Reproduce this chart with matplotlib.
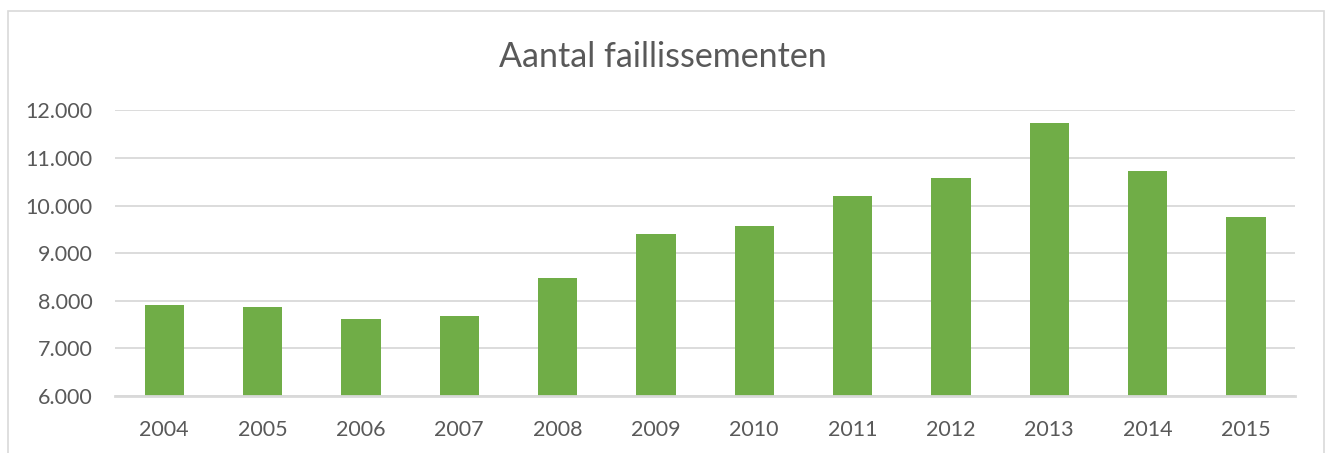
import matplotlib.pyplot as plt
from matplotlib.patches import Rectangle
from matplotlib.ticker import FuncFormatter

years = ['2004', '2005', '2006', '2007', '2008', '2009',
         '2010', '2011', '2012', '2013', '2014', '2015']
faillissementen = [7920, 7870, 7610, 7670, 8470, 9410,
                   9560, 10210, 10570, 11730, 10730, 9750]
y_ticks = [6000, 7000, 8000, 9000, 10000, 11000, 12000]

GREEN = '#70AD47'
GRID = '#D9D9D9'
TEXT = '#595959'

plt.rcParams['font.family'] = ['Lato', 'DejaVu Sans']

fig = plt.figure(figsize=(13.3, 4.53), dpi=100)
ax = fig.add_axes([0.0865, 0.1258, 0.8872, 0.6307])

x = range(len(years))
ax.bar(x, faillissementen, width=0.4, color=GREEN, zorder=3)

ax.set_xlim(-0.5, len(years) - 0.5)
ax.set_ylim(6000, 12000)
ax.set_yticks(y_ticks)
ax.yaxis.set_major_formatter(FuncFormatter(lambda v, p: f'{int(v):,}'.replace(',', '.')))
ax.set_xticks(list(x))
ax.set_xticklabels(years)

ax.grid(axis='y', color=GRID, linewidth=1.3, zorder=0)
for s in ['top', 'right', 'left']:
    ax.spines[s].set_visible(False)
ax.spines['bottom'].set_color(GRID)
ax.spines['bottom'].set_linewidth(2)
ax.spines['bottom'].set_zorder(4)
ax.tick_params(axis='both', length=0, labelsize=15.5, colors=TEXT)
ax.tick_params(axis='x', pad=17)
ax.tick_params(axis='y', pad=16)

fig.text(0.4985, 0.853, 'Aantal faillissementen', ha='center', va='baseline',
         fontsize=24.5, color=TEXT)

# chart area border
fig.patches.append(Rectangle((8 / 1330, -0.1), 1316 / 1330, 1 - 11 / 453 + 0.1,
                             transform=fig.transFigure, fill=False,
                             edgecolor=GRID, linewidth=1.2))

fig.savefig('out.png', dpi=100)
